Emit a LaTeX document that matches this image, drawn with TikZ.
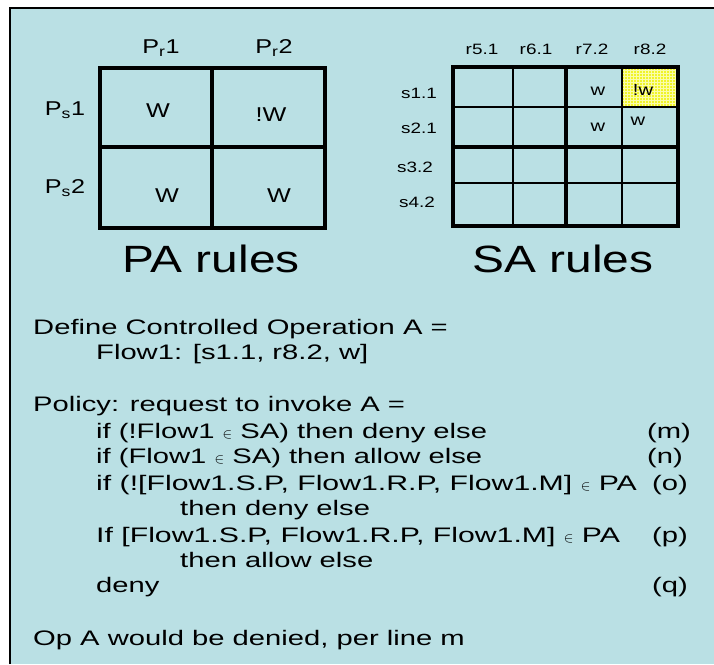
\documentclass[tikz,border=0pt]{standalone}
\usepackage{fontspec}
\setmainfont{Liberation Sans}[FakeStretch=1.39]
\newfontfamily\tabfont{Liberation Sans}[FakeStretch=1.26]
\newfontfamily\widefont{Liberation Sans}[FakeStretch=1.44]
\usetikzlibrary{patterns}
\definecolor{bgblue}{RGB}{186,224,228}
\definecolor{hiyellow}{RGB}{240,244,40}
\definecolor{gridyellow}{RGB}{250,252,170}
\newcommand\elemsym{{\fontsize{14}{14}\selectfont$\in$}}
\begin{document}
\begin{tikzpicture}[x=1pt,y=-1pt,
  body/.style={anchor=base west, inner sep=0pt, font=\fontsize{21}{25}\selectfont},
  bodywide/.style={anchor=base west, inner sep=0pt, font=\widefont\fontsize{21}{25}\selectfont},
  bodyr/.style={anchor=base east, inner sep=0pt, font=\fontsize{21}{25}\selectfont},
  palab/.style={anchor=base, inner sep=0pt, font=\tabfont\fontsize{20}{24}\selectfont},
  salab/.style={anchor=base, inner sep=0pt, font=\tabfont\fontsize{15}{18}\selectfont},
  cellw/.style={anchor=base, inner sep=0pt, font=\tabfont\fontsize{16}{18}\selectfont},
  title/.style={anchor=base, inner sep=0pt, font=\tabfont\fontsize{38}{40}\selectfont},
  thickgrid/.style={line width=3.5pt},
  thingrid/.style={line width=1.2pt}]
\useasboundingbox (0,0) rectangle (714,664);
\fill[white] (0,0) rectangle (714,664);
\fill[bgblue] (10,8) rectangle (714,664);
\draw[line width=1.8pt] (10,664) -- (10,8) -- (714,8);

% PA table
\draw[thickgrid] (100,68) rectangle (325,228);
\draw[thickgrid] (212,68) -- (212,228) (100,147) -- (325,147);
\node[palab] (pr1) at (161,53) {P\textsubscript{r}1};
\node[palab] (pr2) at (274,53) {P\textsubscript{r}2};
\node[palab] (ps1) at (65,115) {P\textsubscript{s}1};
\node[palab] (ps2) at (65,193) {P\textsubscript{s}2};
\node[palab] (pa11) at (158,117) {W};
\node[palab] (pa12) at (271,121) {!W};
\node[palab] (pa21) at (167,202) {W};
\node[palab] (pa22) at (279,202) {W};
\node[title] (patitle) at (211,272) {PA rules};

% SA table
\fill[hiyellow] (622,67) rectangle (678,107);
\fill[pattern=grid, pattern color=gridyellow] (622,67) rectangle (678,107);
\draw[thingrid] (513,67) -- (513,226) (622,67) -- (622,226)
                (453,107) -- (678,107) (453,183) -- (678,183);
\draw[thickgrid] (453,67) rectangle (678,226);
\draw[thickgrid] (566,67) -- (566,226) (453,147) -- (678,147);
\node[salab] (r51) at (482,54) {r5.1};
\node[salab] (r61) at (536,54) {r6.1};
\node[salab] (r72) at (592,54) {r7.2};
\node[salab] (r82) at (650,54) {r8.2};
\node[salab] (s11) at (419,98) {s1.1};
\node[salab] (s21) at (419,133) {s2.1};
\node[salab] (s32) at (415,172) {s3.2};
\node[salab] (s42) at (417,207) {s4.2};
\node[cellw] (sa13) at (598,95) {w};
\node[cellw] (sa14) at (643,95) {!w};
\node[cellw] (sa23) at (598,131) {w};
\node[cellw] (sa24) at (638,125) {w};
\node[title] (satitle) at (563,272) {SA rules};

% text
\node[body] (l1) at (33,334) {Define Controlled Operation A =};
\node[body] (l2) at (96,359) {Flow1: [s1.1, r8.2, w]};
\node[body] (l3) at (33,411) {Policy: request to invoke A =};
\node[body] (l4) at (96,438) {if (!Flow1 \elemsym{} SA) then deny else};
\node[body] (m) at (647,438) {(m)};
\node[body] (l5) at (96,463) {if (Flow1 \elemsym{} SA) then allow else};
\node[body] (n) at (647,463) {(n)};
\node[bodywide] (l6) at (96,490) {if (![Flow1.S.P, Flow1.R.P, Flow1.M] \elemsym{} PA};
\node[bodyr] (o) at (688,490) {(o)};
\node[body] (l7) at (180,515) {then deny else};
\node[bodywide] (l8) at (96,542) {If [Flow1.S.P, Flow1.R.P, Flow1.M] \elemsym{} PA};
\node[bodyr] (p) at (688,542) {(p)};
\node[body] (l9) at (180,567) {then allow else};
\node[body] (l10) at (96,592) {deny};
\node[bodyr] (q) at (688,592) {(q)};
\node[body] (l11) at (33,645) {Op A would be denied, per line m};
\end{tikzpicture}
\end{document}
